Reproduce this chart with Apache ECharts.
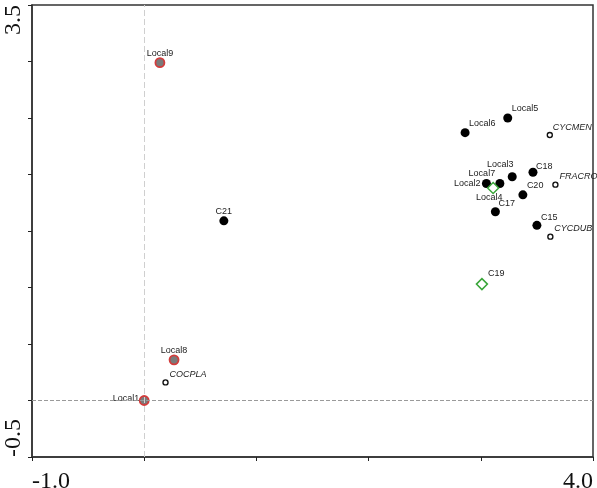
<!DOCTYPE html>
<html>
<head>
<meta charset="utf-8">
<script src="https://cdn.jsdelivr.net/npm/echarts@6/dist/echarts.min.js"></script>
<style>
  html, body { margin: 0; padding: 0; background: #fff; }
  #chart { width: 597px; height: 488px; }
</style>
</head>
<body>
<div id="chart"></div>
<script>
// points: [x, y, name]
const localSites = [
  [0.14, 2.99, "Local9"],
  [0.266, 0.36, "Local8"],
  [0.0, 0.0, "Local1"]
];
const samples = [
  [2.86, 2.37, "Local6"],
  [3.24, 2.5, "Local5"],
  [3.28, 1.98, "Local3"],
  [3.17, 1.92, "Local7"],
  [3.05, 1.92, "Local2"],
  [3.465, 2.02, "C18"],
  [3.375, 1.82, "C20"],
  [3.13, 1.67, "C17"],
  [3.5, 1.55, "C15"],
  [0.71, 1.59, "C21"]
];
const diamonds = [
  [3.11, 1.88, "Local4"],
  [3.01, 1.03, "C19"]
];
const species = [
  [0.19, 0.16, "COCPLA"],
  [3.615, 2.35, "CYCMEN"],
  [3.665, 1.91, "FRACRO"],
  [3.62, 1.45, "CYCDUB"]
];
const xTickLabels = ["-1.0", "4.0"];
const yTickLabels = ["-0.5", "3.5"];

// label placement: [dx, dy, align] measured from the point centre
const labelPos = {
  Local9: [0, -9, "center"], Local8: [0, -9, "center"], Local1: [-5, -2, "right"],
  C21: [0, -9, "center"], Local6: [4, -9, "left"], Local5: [4, -9, "left"],
  Local3: [-12, -12, "center"], Local7: [-18, -10, "center"], Local2: [-6, 0, "right"],
  C18: [3, -6, "left"], C20: [4, -9, "left"], C17: [3, -8, "left"], C15: [4, -8, "left"],
  Local4: [-4, 9, "center"], C19: [6, -11, "left"],
  COCPLA: [4, -8, "left"], CYCMEN: [3, -7, "left"], FRACRO: [4, -8, "left"], CYCDUB: [4, -8, "left"]
};

function items(list, italic) {
  return list.map(function (p) {
    const lp = labelPos[p[2]];
    return {
      value: [p[0], p[1]],
      name: p[2],
      label: {
        show: true,
        formatter: p[2],
        position: "inside",
        offset: [lp[0], lp[1]],
        align: lp[2],
        verticalAlign: "middle",
        fontFamily: "Liberation Sans, Arial, sans-serif",
        fontSize: 9,
        fontStyle: italic ? "italic" : "normal",
        color: "#222"
      }
    };
  });
}

const chart = echarts.init(document.getElementById("chart"));
const axisFont = { fontFamily: "Liberation Serif, Times New Roman, serif", fontSize: 24, color: "#111" };

chart.setOption({
  animation: false,
  grid: {
    left: 32, right: 4, top: 5, bottom: 31,
    outerBoundsMode: "none",
    show: true, borderColor: "#333", borderWidth: 1.5
  },
  xAxis: {
    type: "value", min: -1, max: 4, interval: 1,
    axisLine: { show: true, onZero: false, lineStyle: { color: "#333", width: 1.5 } },
    axisTick: { show: true, length: 4, lineStyle: { color: "#222" } },
    splitLine: { show: false },
    axisLabel: Object.assign({
      margin: 13,
      alignMinLabel: "left",
      alignMaxLabel: "right",
      formatter: function (v) {
        if (v === -1) return xTickLabels[0];
        if (v === 4) return xTickLabels[1];
        return "";
      }
    }, axisFont)
  },
  yAxis: {
    type: "value", min: -0.5, max: 3.5, interval: 0.5,
    axisLine: { show: true, onZero: false, lineStyle: { color: "#333", width: 1.5 } },
    axisTick: { show: true, length: 4, lineStyle: { color: "#222" } },
    splitLine: { show: false },
    axisLabel: Object.assign({
      rotate: 90,
      margin: 6,
      alignMinLabel: "left",
      alignMaxLabel: "right",
      formatter: function (v) {
        if (v === -0.5) return yTickLabels[0];
        if (v === 3.5) return yTickLabels[1];
        return "";
      }
    }, axisFont)
  },
  series: [
    {
      type: "scatter",
      z: 1,
      data: [],
      silent: true,
      markLine: {
        silent: true,
        symbol: "none",
        label: { show: false },
        data: [
          { xAxis: 0, lineStyle: { color: "#cfcfcf", type: [6, 3], width: 1 } },
          { yAxis: 0, lineStyle: { color: "#9a9a9a", type: [4, 2], width: 1 } }
        ]
      }
    },
    {
      type: "scatter",
      symbol: "circle",
      symbolSize: 9,
      itemStyle: { color: "#7a7a7a", borderColor: "#d23c3c", borderWidth: 1.8, opacity: 1 },
      data: items(localSites, false)
    },
    {
      type: "scatter",
      symbol: "circle",
      symbolSize: 9,
      itemStyle: { color: "#000", opacity: 1 },
      data: items(samples, false)
    },
    {
      type: "scatter",
      symbol: "diamond",
      symbolSize: [11, 11],
      itemStyle: { color: "#fff", borderColor: "#3aa63a", borderWidth: 1.5, opacity: 1 },
      data: items(diamonds, false)
    },
    {
      type: "scatter",
      symbol: "circle",
      symbolSize: 5,
      itemStyle: { color: "#fff", borderColor: "#111", borderWidth: 1.4, opacity: 1 },
      data: items(species, true)
    }
  ]
});
</script>
</body>
</html>
